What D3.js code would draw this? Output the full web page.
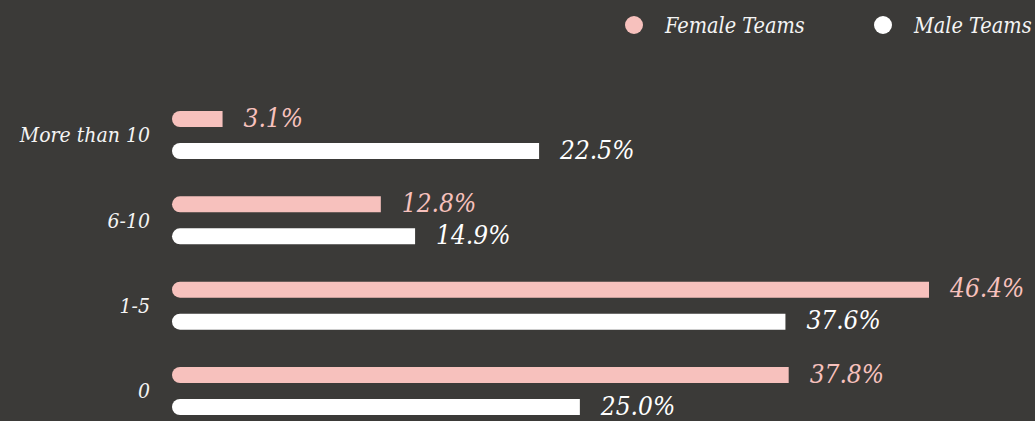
<!DOCTYPE html>
<html>
<head>
<meta charset="utf-8">
<script src="https://cdn.jsdelivr.net/npm/d3@7"></script>
<style>
  html, body { margin: 0; padding: 0; background: #3b3a38; }
  svg { display: block; }
  text { font-family: "DejaVu Serif Condensed", "DejaVu Serif", serif; font-style: italic; }
</style>
</head>
<body>
<svg id="chart"></svg>
<script>
const categories = ['More than 10', '6-10', '1-5', '0'];
const seriesNames = ['Female Teams', 'Male Teams'];
const femaleValues = [3.1, 12.8, 46.4, 37.8];
const maleValues = [22.5, 14.9, 37.6, 25.0];

const width = 1035;
const height = 421;
const colors = { 'Female Teams': '#f7c1bd', 'Male Teams': '#ffffff' };

const svg = d3.select('#chart')
  .attr('width', width)
  .attr('height', height);

const rows = categories.map((c, i) => ({
  category: c,
  values: [
    { series: 'Female Teams', value: femaleValues[i] },
    { series: 'Male Teams', value: maleValues[i] },
  ],
}));

const x = d3.scaleLinear()
  .domain([0, 46.4])
  .range([172, 929]);

// centre of each category group
const y = d3.scalePoint()
  .domain(categories)
  .range([135, 391]);

const ySeries = d3.scaleBand()
  .domain(seriesNames)
  .range([-24, 24])
  .paddingInner(0.5);

const barH = ySeries.bandwidth();
const r = barH / 2;

// bar with rounded left end, square right end
function barPath(x0, x1, top) {
  return `M${x0 + r},${top}H${x1}V${top + barH}H${x0 + r}`
    + `A${r},${r} 0 0 1 ${x0 + r},${top}Z`;
}

const groups = svg.selectAll('g.row')
  .data(rows)
  .join('g')
  .attr('class', 'row')
  .attr('transform', d => `translate(0, ${y(d.category)})`);

groups.append('text')
  .attr('x', 150)
  .attr('y', 0)
  .attr('dy', '0.35em')
  .attr('text-anchor', 'end')
  .attr('fill', '#f4f4f4')
  .attr('font-size', 21)
  .text(d => d.category);

const bars = groups.selectAll('g.bar')
  .data(d => d.values)
  .join('g')
  .attr('class', 'bar');

bars.append('path')
  .attr('d', d => barPath(x(0), x(d.value), ySeries(d.series)))
  .attr('fill', d => colors[d.series]);

bars.append('text')
  .attr('x', d => x(d.value) + 21)
  .attr('y', d => ySeries(d.series) + barH / 2)
  .attr('dy', '0.3em')
  .attr('font-size', 26)
  .attr('fill', d => colors[d.series])
  .text(d => `${d.value.toFixed(1)}%`);

// legend
const legendX = [634, 883];
const legend = svg.selectAll('g.legend')
  .data(seriesNames)
  .join('g')
  .attr('class', 'legend')
  .attr('transform', (d, i) => `translate(${legendX[i]}, 25)`);

legend.append('circle')
  .attr('r', 9)
  .attr('fill', d => colors[d]);

legend.append('text')
  .attr('x', 31)
  .attr('y', 0)
  .attr('dy', '0.35em')
  .attr('font-size', 21.5)
  .attr('fill', '#f4f4f4')
  .text(d => d);
</script>
</body>
</html>
